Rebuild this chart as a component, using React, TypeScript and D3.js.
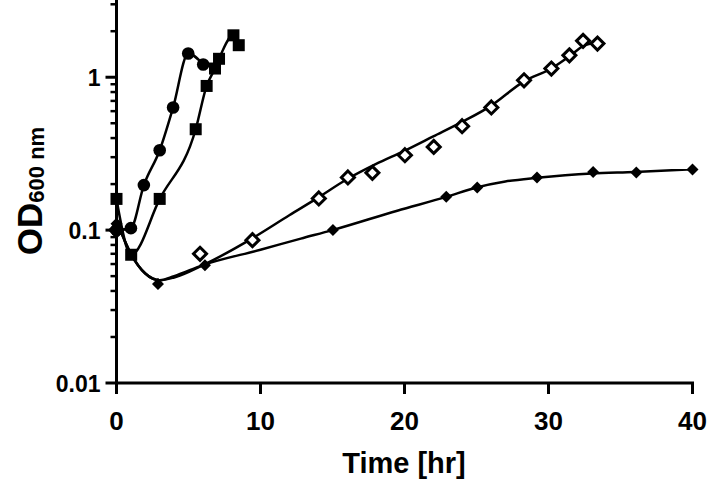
import { curveMonotoneX, line, scaleLinear, scaleLog } from "d3";

const WIDTH = 709;
const HEIGHT = 479;
const MARGIN = { top: 0, right: 16.5, bottom: 96, left: 116.5 };

// measured points (time in hr, OD600)
const circleTime = [0, 1, 1.9, 3, 3.93, 4.98, 6.02];
const circleOd = [0.1, 0.103, 0.197, 0.333, 0.634, 1.43, 1.21];

const squareTime = [0, 1.02, 3, 5.5, 6.26, 6.84, 7.12, 8.12, 8.49];
const squareOd = [0.16, 0.069, 0.16, 0.457, 0.877, 1.14, 1.32, 1.88, 1.62];

const openTime = [0, 5.8, 9.44, 14.05, 16.07, 17.77, 20.03, 22.03, 24, 26.03, 28.3, 30.2, 31.45, 32.4, 33.4];
const openOd = [0.1, 0.07, 0.086, 0.161, 0.221, 0.237, 0.309, 0.35, 0.478, 0.634, 0.955, 1.14, 1.39, 1.73, 1.66];

const filledTime = [0, 2.88, 6.14, 15.03, 22.9, 25.05, 29.2, 33.1, 36.1, 40];
const filledOd = [0.11, 0.0444, 0.059, 0.1, 0.165, 0.19, 0.221, 0.24, 0.238, 0.249];

// fitted curves as drawn in the figure
const openFitTime = [0, 1, 2, 3, 4, 6, 9.4, 12, 14, 16, 18, 20, 22, 24, 26, 28.3, 30.2, 31.5, 32.4, 33.2];
const openFitOd = [0.115, 0.07, 0.052, 0.047, 0.049, 0.059, 0.088, 0.125, 0.163, 0.215, 0.27, 0.33, 0.41, 0.51, 0.65, 0.94, 1.14, 1.38, 1.6, 1.68];

const filledFitTime = [0, 1, 2, 3, 4, 6, 10, 12.8, 15, 19.5, 22.9, 25, 27, 29.2, 33, 36, 40];
const filledFitOd = [0.115, 0.07, 0.052, 0.047, 0.05, 0.059, 0.0744, 0.088, 0.1, 0.134, 0.165, 0.19, 0.208, 0.22, 0.235, 0.24, 0.25];

const xTicks = [0, 10, 20, 30, 40];
const yTicks = [0.01, 0.1, 1];
const yTickLabels = ["0.01", "0.1", "1"];

type Pt = [number, number];
const zip = (xs: number[], ys: number[]): Pt[] => xs.map((x, i) => [x, ys[i]]);

export default function App() {
  const x = scaleLinear().domain([0, 40]).range([MARGIN.left, WIDTH - MARGIN.right]);
  const y = scaleLog().domain([0.01, 3.2]).range([HEIGHT - MARGIN.bottom, MARGIN.top]);

  const smooth = line<Pt>()
    .x((d) => x(d[0]))
    .y((d) => y(d[1]))
    .curve(curveMonotoneX);

  const minorTicks: number[] = [];
  for (const base of [0.01, 0.1, 1]) {
    for (let k = 2; k <= 9; k++) {
      const v = base * k;
      if (v <= 3.2) minorTicks.push(v);
    }
  }

  const font = "'Liberation Sans', Arial, sans-serif";
  const diamond = (cx: number, cy: number, r: number) =>
    `M${cx},${cy - r}L${cx + r},${cy}L${cx},${cy + r}L${cx - r},${cy}Z`;

  return (
    <div style={{ position: "absolute", left: 0, top: 0 }}>
      <svg width={WIDTH} height={HEIGHT} viewBox={`0 0 ${WIDTH} ${HEIGHT}`}>
        <rect width={WIDTH} height={HEIGHT} fill="#fff" />

        {/* curves */}
        <g fill="none" stroke="#000" strokeWidth={2.5}>
          <path d={smooth(zip(circleTime, circleOd)) ?? ""} />
          <path d={smooth(zip(squareTime, squareOd)) ?? ""} />
          <path d={smooth(zip(openFitTime, openFitOd)) ?? ""} />
          <path d={smooth(zip(filledFitTime, filledFitOd)) ?? ""} />
        </g>

        {/* markers */}
        {zip(filledTime, filledOd).map((d, i) => (
          <path key={`f${i}`} d={diamond(x(d[0]), y(d[1]), 6)} fill="#000" />
        ))}
        {zip(openTime, openOd).map((d, i) => (
          <path
            key={`o${i}`}
            d={diamond(x(d[0]), y(d[1]), 6.5)}
            fill="#fff"
            stroke="#000"
            strokeWidth={3}
          />
        ))}
        {zip(squareTime, squareOd).map((d, i) => (
          <rect key={`s${i}`} x={x(d[0]) - 6} y={y(d[1]) - 6} width={12} height={12} fill="#000" />
        ))}
        {zip(circleTime, circleOd).map((d, i) => (
          <circle key={`c${i}`} cx={x(d[0])} cy={y(d[1])} r={6.3} fill="#000" />
        ))}

        {/* y axis */}
        <g stroke="#000" strokeWidth={3}>
          <line x1={MARGIN.left} x2={MARGIN.left} y1={0} y2={HEIGHT - MARGIN.bottom + 1.5} />
          {yTicks.map((t) => (
            <line key={t} x1={MARGIN.left - 11} x2={MARGIN.left} y1={y(t)} y2={y(t)} />
          ))}
          {minorTicks.map((t) => (
            <line key={t} x1={MARGIN.left - 6} x2={MARGIN.left} y1={y(t)} y2={y(t)} strokeWidth={2.5} />
          ))}
        </g>
        {yTicks.map((t, i) => (
          <text
            key={t}
            x={MARGIN.left - 16}
            y={y(t)}
            dy="0.4em"
            textAnchor="end"
            fontFamily={font}
            fontWeight="bold"
            fontSize={23}
          >
            {yTickLabels[i]}
          </text>
        ))}

        {/* x axis */}
        <g stroke="#000" strokeWidth={3}>
          <line x1={MARGIN.left - 1.5} x2={WIDTH - MARGIN.right + 1.5} y1={y(0.01)} y2={y(0.01)} />
          {xTicks.map((t) => (
            <line key={t} x1={x(t)} x2={x(t)} y1={y(0.01)} y2={y(0.01) + 11} />
          ))}
        </g>
        {xTicks.map((t) => (
          <text
            key={t}
            x={x(t)}
            y={430}
            textAnchor="middle"
            fontFamily={font}
            fontWeight="bold"
            fontSize={26}
          >
            {t}
          </text>
        ))}

        <text x={404} y={473} textAnchor="middle" fontFamily={font} fontWeight="bold" fontSize={29}>
          Time [hr]
        </text>
        <text
          transform="translate(42,191) rotate(-90)"
          textAnchor="middle"
          fontFamily={font}
          fontWeight="bold"
          fontSize={35}
        >
          OD
          <tspan fontSize={22} dy={2}>
            600 nm
          </tspan>
        </text>
      </svg>
    </div>
  );
}
